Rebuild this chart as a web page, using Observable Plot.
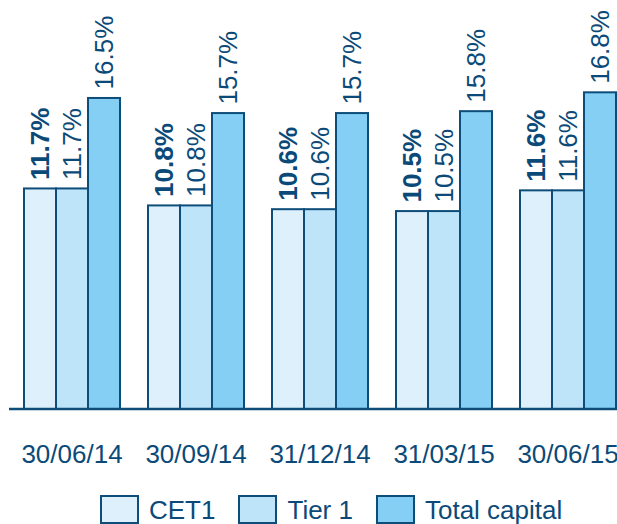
<!DOCTYPE html>
<html>
<head>
<meta charset="utf-8">
<script src="https://cdn.jsdelivr.net/npm/d3@7"></script>
<script src="https://cdn.jsdelivr.net/npm/@observablehq/plot@0.6"></script>
<style>
  html, body { margin: 0; padding: 0; background: #fff; overflow: hidden; width: 617px; height: 524px; }
  body { font-family: "Liberation Sans", Arial, sans-serif; }
  #chart { width: 617px; height: 480px; overflow: hidden; }
  #chart svg { max-width: none !important; width: 640px; height: 480px; }
  .legend { display: flex; align-items: center; padding-left: 100px; margin-top: 15px; color: #0b4a78; font-size: 26px; line-height: 28px; white-space: nowrap; }
  .legend .sw { width: 35px; height: 25px; border: 2px solid #0e4d7a; margin-right: 10px; }
  .legend .item { display: flex; align-items: center; margin-right: 23px; }
</style>
</head>
<body>
<div id="chart"></div>
<script>
const dates = ["30/06/14", "30/09/14", "31/12/14", "31/03/15", "30/06/15"];
const series = ["CET1", "Tier 1", "Total capital"];
const cet1 = [11.7, 10.8, 10.6, 10.5, 11.6];
const tier1 = [11.7, 10.8, 10.6, 10.5, 11.6];
const totalCapital = [16.5, 15.7, 15.7, 15.8, 16.8];
const colors = ["#def0fc", "#bde4f8", "#84cff3"];
const ink = "#0b4a78";
const edge = "#0e4d7a";

const valuesBySeries = [cet1, tier1, totalCapital];
const data = [];
dates.forEach((date, i) => {
  series.forEach((s, j) => data.push({date, series: s, value: valuesBySeries[j][i]}));
});
const label = d => d.value.toFixed(1) + "%";

const W = 640, H = 480;
const plot = Plot.plot({
  width: W,
  height: H,
  marginLeft: 9,
  marginRight: 10,
  marginTop: 32,
  marginBottom: 71,
  style: {fontFamily: "'Liberation Sans', Arial, sans-serif", fontSize: "26px", color: ink, background: "transparent", maxWidth: "none"},
  fx: {domain: dates, paddingInner: 0.214, paddingOuter: 0.099, axis: "bottom", tickSize: 0, tickPadding: 35, label: null},
  x: {domain: series, padding: 0, axis: null},
  y: {domain: [0, 20], axis: null},
  color: {domain: series, range: colors},
  marks: [
    Plot.barY(data, {fx: "date", x: "series", y: "value", fill: "series", stroke: edge, strokeWidth: 2}),
    Plot.text(data.filter(d => d.series === "CET1"), {fx: "date", x: "series", y: "value", text: label, rotate: -90, textAnchor: "start", dy: -9, fontWeight: "bold", fontSize: 26, fill: ink}),
    Plot.text(data.filter(d => d.series !== "CET1"), {fx: "date", x: "series", y: "value", text: label, rotate: -90, textAnchor: "start", dy: -9, fontSize: 26, fill: ink})
  ]
});

// full-width baseline at y = 0, positioned from the plot's own y scale
const y0 = plot.scale("y").apply(0);
d3.select(plot).append("line")
  .attr("x1", 9).attr("x2", W)
  .attr("y1", y0).attr("y2", y0)
  .attr("stroke", edge).attr("stroke-width", 2.5);

document.getElementById("chart").appendChild(plot);

const legend = d3.select("body").append("div").attr("class", "legend");
series.forEach((s, j) => {
  const item = legend.append("div").attr("class", "item");
  item.append("div").attr("class", "sw").style("background", colors[j]);
  item.append("span").text(s);
});
</script>
</body>
</html>
